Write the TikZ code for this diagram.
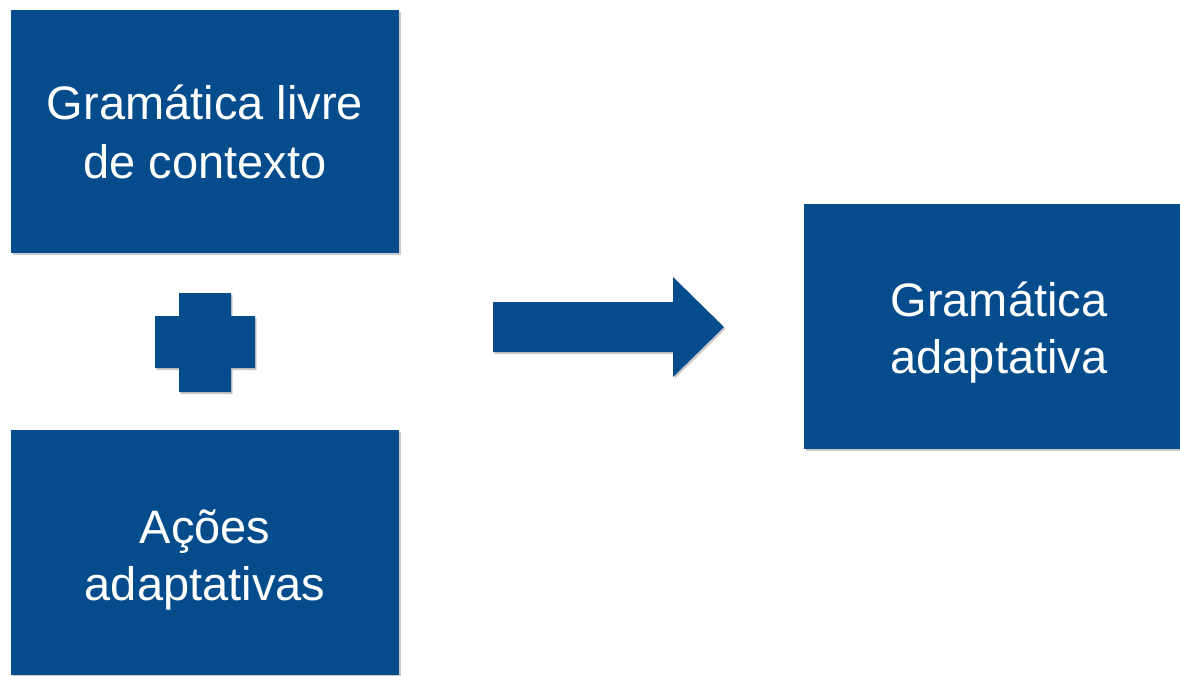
\documentclass[tikz,border=0pt]{standalone}
\usepackage{fontspec}
\setmainfont{Liberation Sans}
\definecolor{boxblue}{RGB}{4,76,140}
\begin{document}
\begin{tikzpicture}[x=1pt,y=-1pt,
  bluebox/.style={fill=boxblue,draw=none,
    preaction={fill=black!60,opacity=0.35,transform canvas={shift={(1.5pt,-2pt)}}}},
  lbl/.style={text=white,anchor=base,inner sep=0pt,font=\fontsize{47}{57}\selectfont}]
\useasboundingbox (0,0) rectangle (1180,675);
% boxes
\path[bluebox] (11,10) rectangle (399,253);
\path[bluebox] (11,430) rectangle (399,675);
\path[bluebox] (804,204) rectangle (1180,449);
% plus sign
\path[bluebox] (179,293) -- (231,293) -- (231,316) -- (255,316) -- (255,368) -- (231,368)
  -- (231,392) -- (179,392) -- (179,368) -- (155,368) -- (155,316) -- (179,316) -- cycle;
% arrow
\path[bluebox] (493,302) -- (673,302) -- (673,277) -- (724,327) -- (673,377) -- (673,352)
  -- (493,352) -- cycle;
% labels
\node[lbl] (t1) at (205,119) {Gramática livre};
\node[lbl] (t2) at (205,178) {de contexto};
\node[lbl] (b1) at (205,543) {Ações};
\node[lbl] (b2) at (205,600) {adaptativas};
\node[lbl] (r1) at (999,316) {Gramática};
\node[lbl] (r2) at (999,373) {adaptativa};
\end{tikzpicture}
\end{document}
